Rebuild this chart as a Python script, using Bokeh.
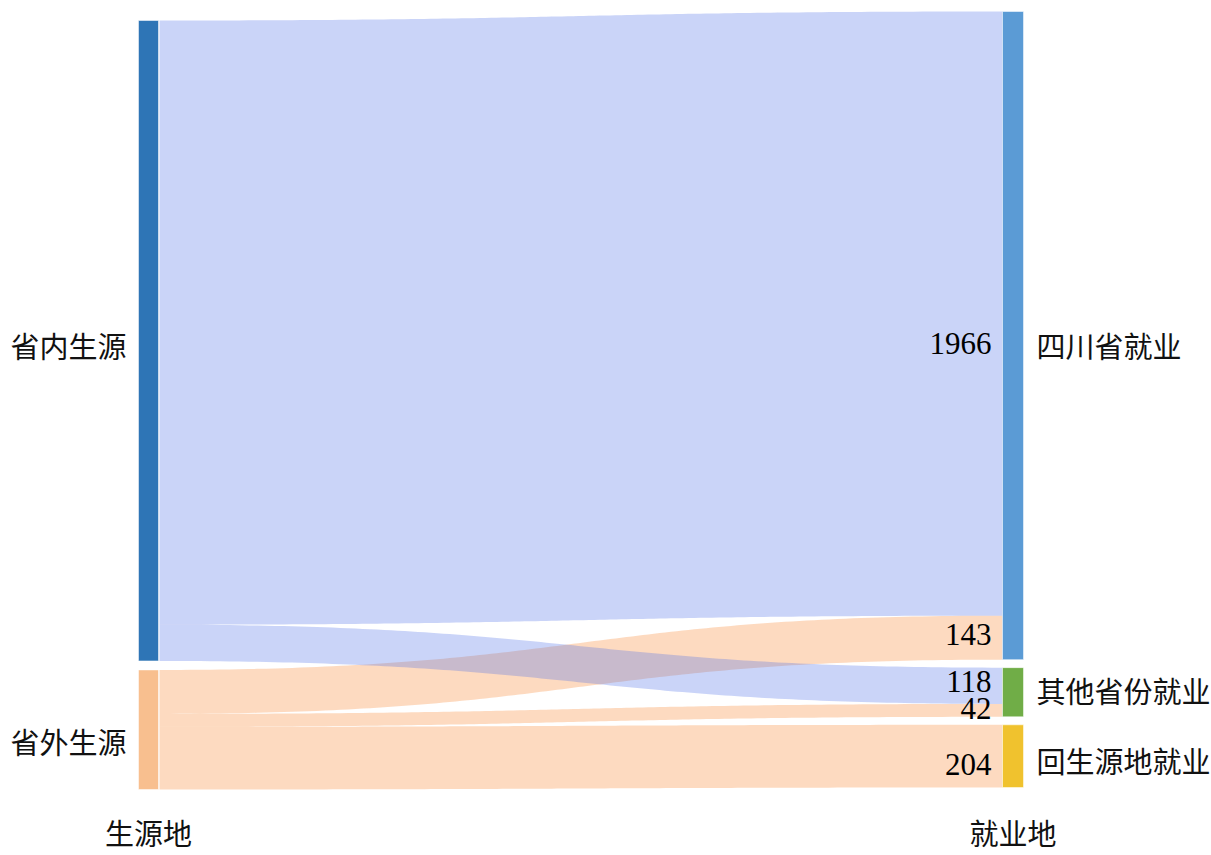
import numpy as np
from bokeh.plotting import figure
from bokeh.models import Range1d
from bokeh.core.properties import value
from bokeh.embed import file_html
from bokeh.resources import INLINE

# ---- data ----
source_nodes = ["省内生源", "省外生源"]
target_nodes = ["四川省就业", "其他省份就业", "回生源地就业"]
link_source = ["省内生源", "省外生源", "省内生源", "省外生源", "省外生源"]
link_target = ["四川省就业", "四川省就业", "其他省份就业", "其他省份就业", "回生源地就业"]
link_value = [1966, 143, 118, 42, 204]
column_titles = ["生源地", "就业地"]

# ---- styles ----
source_colors = {"省内生源": "#2E75B6", "省外生源": "#F8BF8F"}
target_colors = {"四川省就业": "#5B9BD5", "其他省份就业": "#70AD47", "回生源地就业": "#F0C22E"}
link_colors = {"省内生源": "#4E70E8", "省外生源": "#F8842D"}
link_alpha = 0.3
src_label_nudge = [4, 11]
tgt_label_nudge = [9, -2, 4]
val_label_nudge = [30, -3, -4, -2, 8]

W, H = 1211, 855
p = figure(width=W, height=H, output_backend="svg", toolbar_location=None,
           x_range=Range1d(0, W), y_range=Range1d(H, 0),
           min_border=0, outline_line_color=None)
p.axis.visible = False
p.grid.visible = False
p.background_fill_color = "white"

# layout (page pixel units)
xL0, xL1 = 138, 158
xR0, xR1 = 1002, 1023
topL, botL, gapL = 20, 789, 9
topR, gapR = 11, 8

src_tot = {n: sum(v for s, v in zip(link_source, link_value) if s == n) for n in source_nodes}
tgt_tot = {n: sum(v for t, v in zip(link_target, link_value) if t == n) for n in target_nodes}
k = (botL - topL - gapL * (len(source_nodes) - 1)) / sum(src_tot.values())

src_pos = {}
y = topL
for n in source_nodes:
    src_pos[n] = [y, y + src_tot[n] * k]
    y += src_tot[n] * k + gapL
tgt_pos = {}
y = topR
for n in target_nodes:
    tgt_pos[n] = [y, y + tgt_tot[n] * k]
    y += tgt_tot[n] * k + gapR

# link geometry
src_cursor = {n: src_pos[n][0] for n in source_nodes}
tgt_cursor = {n: tgt_pos[n][0] for n in target_nodes}
links = []
for s, t, v in zip(link_source, link_target, link_value):
    h = v * k
    a0, a1 = src_cursor[s], src_cursor[s] + h
    b0, b1 = tgt_cursor[t], tgt_cursor[t] + h
    src_cursor[s] += h
    tgt_cursor[t] += h
    links.append((s, t, v, a0, a1, b0, b1))

tt = np.linspace(0, 1, 120)
x0, x1 = xL1 + 1, xR0
xm = (x0 + x1) / 2
bx = (1 - tt) ** 3 * x0 + 3 * (1 - tt) ** 2 * tt * xm + 3 * (1 - tt) * tt ** 2 * xm + tt ** 3 * x1

def by(ya, yb):
    return ((1 - tt) ** 3 + 3 * (1 - tt) ** 2 * tt) * ya + (3 * (1 - tt) * tt ** 2 + tt ** 3) * yb

# draw peach links first, then blue links on top
order = sorted(range(len(links)), key=lambda i: 0 if links[i][0] == "省外生源" else 1)
xs, ys, cs = [], [], []
for i in order:
    s, t, v, a0, a1, b0, b1 = links[i]
    xs.append(list(np.concatenate([bx, bx[::-1]])))
    ys.append(list(np.concatenate([by(a0, b0), by(a1, b1)[::-1]])))
    cs.append(link_colors[s])
p.patches(xs=xs, ys=ys, fill_color=cs, fill_alpha=link_alpha, line_color=None)

# nodes
p.quad(left=[xL0] * len(source_nodes), right=[xL1] * len(source_nodes),
       top=[src_pos[n][0] for n in source_nodes], bottom=[src_pos[n][1] for n in source_nodes],
       fill_color=[source_colors[n] for n in source_nodes], line_color="white", line_alpha=0.5, line_width=1)
p.quad(left=[xR0] * len(target_nodes), right=[xR1] * len(target_nodes),
       top=[tgt_pos[n][0] for n in target_nodes], bottom=[tgt_pos[n][1] for n in target_nodes],
       fill_color=[target_colors[n] for n in target_nodes], line_color="white", line_alpha=0.5, line_width=1)

cjk = value("Noto Sans CJK SC")
# node labels
p.text(x=[xL0 - 12] * len(source_nodes),
       y=[(src_pos[n][0] + src_pos[n][1]) / 2 + d for n, d in zip(source_nodes, src_label_nudge)],
       text=source_nodes, text_align="right", text_baseline="middle",
       text_font=cjk, text_font_size="29px", text_color="#111111")
p.text(x=[xR1 + 13] * len(target_nodes),
       y=[(tgt_pos[n][0] + tgt_pos[n][1]) / 2 + d for n, d in zip(target_nodes, tgt_label_nudge)],
       text=target_nodes, text_align="left", text_baseline="middle",
       text_font=cjk, text_font_size="29px", text_color="#111111")

# value labels
p.text(x=[xR0 - 11] * len(links),
       y=[(l[5] + l[6]) / 2 + d for l, d in zip(links, val_label_nudge)],
       text=[str(l[2]) for l in links], text_align="right", text_baseline="middle",
       text_font=value("Liberation Serif"), text_font_size="31px", text_color="#000000")

# column titles
p.text(x=[(xL0 + xL1) / 2, (xR0 + xR1) / 2], y=[831, 831], text=column_titles,
       text_align="center", text_baseline="middle",
       text_font=cjk, text_font_size="29px", text_color="#111111")

open("out.html", "w").write(file_html(p, INLINE))
